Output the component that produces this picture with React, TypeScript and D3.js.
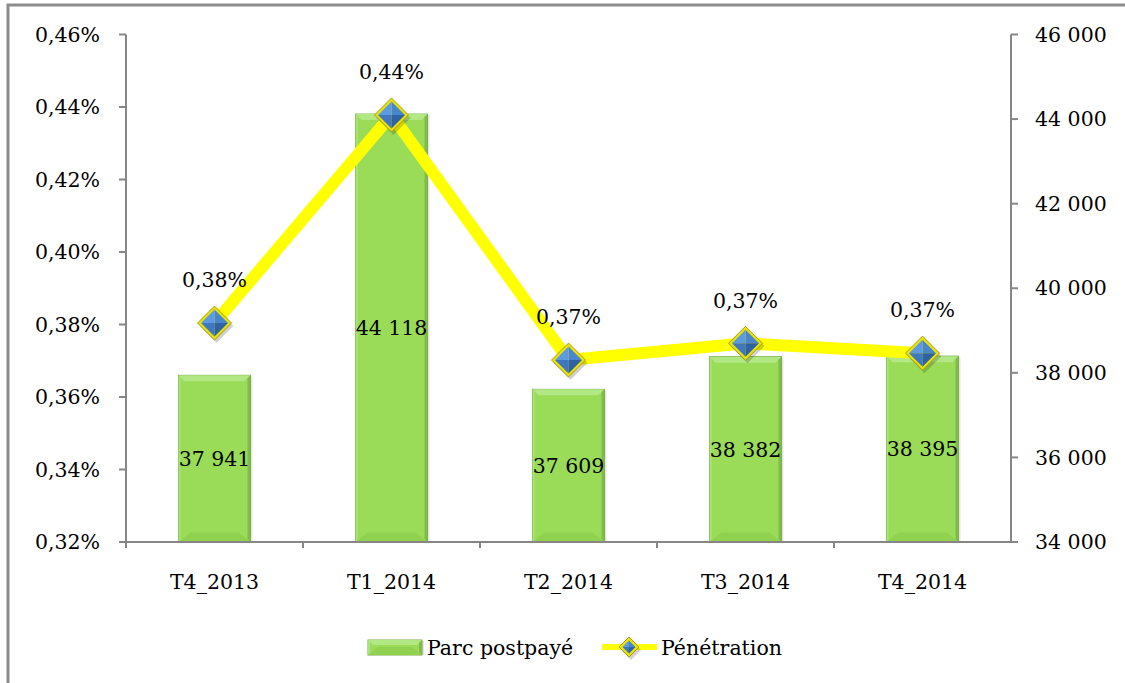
import React from "react";
import * as d3 from "d3";

const categories = ["T4_2013", "T1_2014", "T2_2014", "T3_2014", "T4_2014"];
const parcValues = [37941, 44118, 37609, 38382, 38395];
const penetrationValues = [0.3804, 0.4378, 0.3702, 0.3748, 0.3721];
const penetrationLabels = ["0,38%", "0,44%", "0,37%", "0,37%", "0,37%"];
const leftTicks = [0.32, 0.34, 0.36, 0.38, 0.40, 0.42, 0.44, 0.46];
const rightTicks = [34000, 36000, 38000, 40000, 42000, 44000, 46000];

const W = 1125;
const H = 683;
const plot = { left: 126, right: 1011, top: 34.5, bottom: 542 };
const FONT = "'DejaVu Serif', 'Liberation Serif', serif";

const fmtPct = (v: number) => v.toFixed(2).replace(".", ",") + "%";
const fmtNum = (v: number) => {
  const s = Math.round(v).toString();
  return s.replace(/\B(?=(\d{3})+(?!\d))/g, " ");
};

function Diamond({ cx, cy, r }: { cx: number; cy: number; r: number }) {
  const ri = r - 3.5;
  return (
    <g>
      <path
        d={`M${cx + 2},${cy - r + 3} L${cx + r + 2},${cy + 3} L${cx + 2},${cy + r + 3} L${cx - r + 2},${cy + 3} Z`}
        fill="rgba(0,0,0,0.18)"
      />
      <path
        d={`M${cx},${cy - r} L${cx + r},${cy} L${cx},${cy + r} L${cx - r},${cy} Z`}
        fill="#E8E20A"
        stroke="#A89C10"
        strokeWidth={1}
      />
      <path d={`M${cx},${cy - ri} L${cx + ri},${cy} L${cx},${cy} Z`} fill="#4A86CC" />
      <path d={`M${cx},${cy - ri} L${cx - ri},${cy} L${cx},${cy} Z`} fill="#5C9BE0" />
      <path d={`M${cx - ri},${cy} L${cx},${cy + ri} L${cx},${cy} Z`} fill="#3F78BE" />
      <path d={`M${cx + ri},${cy} L${cx},${cy + ri} L${cx},${cy} Z`} fill="#2E62A2" />
    </g>
  );
}

function Bar({ x, y, w, h }: { x: number; y: number; w: number; h: number }) {
  const b = Math.min(6, h / 3);
  return (
    <g>
      <rect x={x + 2} y={y + 1} width={w} height={h - 1} fill="rgba(0,0,0,0.10)" />
      <rect x={x} y={y} width={w} height={h} fill="#9ADC58" stroke="#76A845" strokeWidth={1} />
      <path d={`M${x},${y} L${x + w},${y} L${x + w - b},${y + b} L${x + b},${y + b} Z`} fill="#B2E884" />
      <path d={`M${x},${y + h} L${x + w},${y + h} L${x + w - b * 2},${y + h - b * 1.6} L${x + b * 2},${y + h - b * 1.6} Z`} fill="#90D150" />
      <path d={`M${x + w},${y} L${x + w},${y + h} L${x + w - 3},${y + h - 3} L${x + w - 3},${y + 3} Z`} fill="#82BA4C" />
      <path d={`M${x},${y} L${x},${y + h} L${x + 2},${y + h - 2} L${x + 2},${y + 2} Z`} fill="#A9E478" />
    </g>
  );
}

export default function App() {
  const x = d3.scaleBand<string>().domain(categories).range([plot.left, plot.right]).paddingInner(0).paddingOuter(0);
  const yL = d3.scaleLinear().domain([0.32, 0.46]).range([plot.bottom, plot.top]);
  const yR = d3.scaleLinear().domain([34000, 46000]).range([plot.bottom, plot.top]);
  const barW = 72;
  const pts: [number, number][] = categories.map((c, i) => [x(c)! + x.bandwidth() / 2, yL(penetrationValues[i])]);
  const line = d3.line()(pts) || "";
  const axisColor = "#868686";
  const ts: React.CSSProperties = { fontFamily: FONT, fontSize: 20.5 };

  return (
    <svg
      width={W}
      height={H}
      style={{ position: "absolute", left: 0, top: 0, background: "#fff", fontFamily: FONT }}
    >
      <rect x={0} y={0} width={W} height={H} fill="#fff" />
      <rect x={8} y={5} width={1125} height={700} fill="none" stroke="#8C8C8C" strokeWidth={3} />

      {categories.map((c, i) => {
        const cx = x(c)! + x.bandwidth() / 2;
        const top = yR(parcValues[i]);
        return <Bar key={c} x={cx - barW / 2} y={top} w={barW} h={plot.bottom - top} />;
      })}

      <line x1={plot.left} x2={plot.left} y1={plot.top} y2={plot.bottom} stroke={axisColor} strokeWidth={2} />
      <line x1={plot.right} x2={plot.right} y1={plot.top} y2={plot.bottom} stroke={axisColor} strokeWidth={2} />
      <line x1={plot.left} x2={plot.right + 7} y1={plot.bottom} y2={plot.bottom} stroke={axisColor} strokeWidth={2} />
      {leftTicks.map((t) => (
        <g key={"l" + t}>
          <line x1={plot.left - 7} x2={plot.left} y1={yL(t)} y2={yL(t)} stroke={axisColor} strokeWidth={2} />
          <text x={plot.left - 26} y={yL(t)} dy="0.35em" textAnchor="end" style={ts} fill="#000">
            {fmtPct(t)}
          </text>
        </g>
      ))}
      {rightTicks.map((t) => (
        <g key={"r" + t}>
          <line x1={plot.right} x2={plot.right + 7} y1={yR(t)} y2={yR(t)} stroke={axisColor} strokeWidth={2} />
          <text x={plot.right + 24} y={yR(t)} dy="0.35em" textAnchor="start" style={ts} fill="#000">
            {fmtNum(t)}
          </text>
        </g>
      ))}
      {categories.map((c) => (
        <g key={"x" + c}>
          <line x1={x(c)!} x2={x(c)!} y1={plot.bottom} y2={plot.bottom + 6} stroke={axisColor} strokeWidth={2} />
          <text x={x(c)! + x.bandwidth() / 2} y={582} dy="0.35em" textAnchor="middle" style={ts} fill="#000">
            {c}
          </text>
        </g>
      ))}

      {categories.map((c, i) => {
        const cx = x(c)! + x.bandwidth() / 2;
        const top = yR(parcValues[i]);
        return (
          <text key={"bl" + c} x={cx} y={(top + plot.bottom) / 2} dy="0.35em" textAnchor="middle" style={ts} fill="#000">
            {fmtNum(parcValues[i])}
          </text>
        );
      })}

      <path d={line} fill="none" stroke="#FFFF00" strokeWidth={12} strokeLinejoin="miter" />
      {pts.map(([px, py], i) => (
        <Diamond key={"d" + i} cx={px} cy={py} r={17} />
      ))}
      {pts.map(([px, py], i) => (
        <text key={"pl" + i} x={px} y={py - 43} dy="0.35em" textAnchor="middle" style={ts} fill="#000">
          {penetrationLabels[i]}
        </text>
      ))}

      <Bar x={368} y={640} w={54} h={15} />
      <text x={427} y={648} dy="0.35em" style={ts} fill="#000">Parc postpayé</text>
      <line x1={602} x2={657} y1={647} y2={647} stroke="#FFFF00" strokeWidth={6} />
      <Diamond cx={629} cy={647} r={10} />
      <text x={661} y={648} dy="0.35em" style={ts} fill="#000">Pénétration</text>
    </svg>
  );
}
